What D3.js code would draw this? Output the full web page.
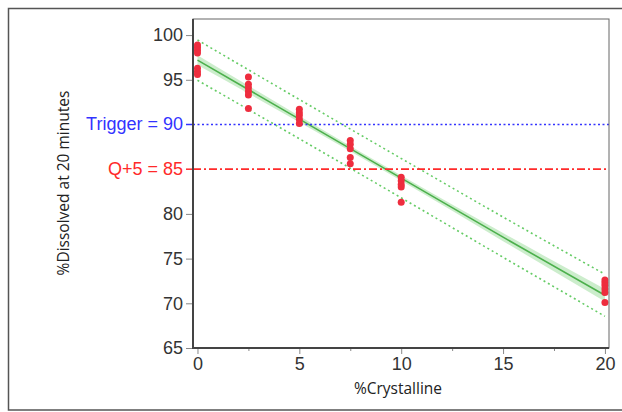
<!DOCTYPE html>
<html>
<head>
<meta charset="utf-8">
<script src="https://cdn.jsdelivr.net/npm/d3@7"></script>
<style>
  body { margin: 0; background: #fff; }
  svg { display: block; }
</style>
</head>
<body>
<div id="chart"></div>
<script>
const crystalline = [0, 0, 0, 0, 0, 0, 0,
  2.5, 2.5, 2.5, 2.5, 2.5, 2.5,
  5, 5, 5, 5, 5,
  7.5, 7.5, 7.5, 7.5, 7.5,
  10, 10, 10, 10, 10,
  20, 20, 20, 20, 20, 20]
const dissolved = [98.9, 98.6, 98.3, 98.0, 96.3, 95.9, 95.6,
  95.3, 94.5, 94.1, 93.7, 93.3, 91.8,
  91.7, 91.3, 91.0, 90.6, 90.1,
  88.2, 87.8, 87.3, 86.3, 85.6,
  84.1, 83.7, 83.3, 83.0, 81.3,
  72.6, 72.3, 72.0, 71.6, 71.2, 70.1]

// fitted line and bands, read at a few x positions
const fitX = [0, 5, 10, 15, 20]
const fitY = [97.2, 90.6, 84.0, 77.4, 70.9]
const confHalf = [0.55, 0.35, 0.3, 0.45, 0.7]
const predHalf = [2.25, 2.2, 2.2, 2.25, 2.35]

const xTicks = [0, 5, 10, 15, 20]
const xMinor = [2.5, 7.5, 12.5, 17.5]
const yTicks = [65, 70, 75, 80, 95, 100]
const refLines = [
  { value: 90, label: "Trigger = 90", color: "#3333ff", dash: "2,2.5" },
  { value: 85, label: "Q+5 = 85", color: "#ff2a2a", dash: "8,3,2,3" }
]

const W = 622, H = 412
const m = { left: 193, right: 609, top: 19, bottom: 348 }

const svg = d3.select("#chart").append("svg")
  .attr("width", W)
  .attr("height", H)

// outer frame
svg.append("rect")
  .attr("x", 8.5).attr("y", 8.5)
  .attr("width", 640).attr("height", 401.5)
  .attr("fill", "none")
  .attr("stroke", "#555")
  .attr("stroke-width", 1.5)

const x = d3.scaleLinear().domain([-0.22, 20.2]).range([m.left, m.right])
const y = d3.scaleLinear().domain([65, 101.8]).range([m.bottom, m.top])

const plot = svg.append("g")

const idx = d3.range(fitX.length)
const curve = d3.curveMonotoneX

// confidence band
plot.append("path")
  .datum(idx)
  .attr("fill", "#bfe8bf")
  .attr("opacity", 0.8)
  .attr("d", d3.area()
    .curve(curve)
    .x(i => x(fitX[i]))
    .y0(i => y(fitY[i] - confHalf[i]))
    .y1(i => y(fitY[i] + confHalf[i])))

// prediction band lines
;[-1, 1].forEach(s => {
  plot.append("path")
    .datum(idx)
    .attr("fill", "none")
    .attr("stroke", "#66cc66")
    .attr("stroke-width", 1.6)
    .attr("stroke-dasharray", "2,3")
    .attr("d", d3.line()
      .curve(curve)
      .x(i => x(fitX[i]))
      .y(i => y(fitY[i] + s * predHalf[i])))
})

// fit line
plot.append("path")
  .datum(idx)
  .attr("fill", "none")
  .attr("stroke", "#4cb04c")
  .attr("stroke-width", 1.6)
  .attr("d", d3.line()
    .x(i => x(fitX[i]))
    .y(i => y(fitY[i])))

// reference lines
refLines.forEach(r => {
  plot.append("line")
    .attr("x1", m.left).attr("x2", m.right)
    .attr("y1", y(r.value)).attr("y2", y(r.value))
    .attr("stroke", r.color)
    .attr("stroke-width", 1.7)
    .attr("stroke-dasharray", r.dash)
})

// points
plot.selectAll("circle")
  .data(d3.range(crystalline.length))
  .enter().append("circle")
  .attr("cx", i => x(crystalline[i]))
  .attr("cy", i => y(dissolved[i]))
  .attr("r", 3.5)
  .attr("fill", "#ee2d3e")

// axes
const tickFont = "'Liberation Sans', Arial, sans-serif"

const xAxis = svg.append("g")
  .attr("transform", "translate(0," + m.bottom + ")")
  .call(d3.axisBottom(x).tickValues(xTicks).tickSize(6).tickPadding(3))
xAxis.select(".domain").remove()
xAxis.selectAll("line").attr("stroke", "#888")
xAxis.selectAll("text")
  .style("font-family", tickFont)
  .style("font-size", "18px")
  .attr("fill", "#333")

svg.append("g")
  .attr("transform", "translate(0," + m.bottom + ")")
  .call(d3.axisBottom(x).tickValues(xMinor).tickSize(3).tickFormat(""))
  .call(g => g.select(".domain").remove())
  .selectAll("line").attr("stroke", "#888")

const yAxis = svg.append("g")
  .attr("transform", "translate(" + m.left + ",0)")
  .call(d3.axisLeft(y).tickValues(yTicks).tickSize(7).tickPadding(3))
yAxis.select(".domain").remove()
yAxis.selectAll("line").attr("stroke", "#888")
yAxis.selectAll("text")
  .style("font-family", tickFont)
  .style("font-size", "18px")
  .attr("fill", "#333")

refLines.forEach(r => {
  svg.append("line")
    .attr("x1", m.left - 7).attr("x2", m.left)
    .attr("y1", y(r.value)).attr("y2", y(r.value))
    .attr("stroke", r.color)
    .attr("stroke-width", 1.5)
  svg.append("text")
    .attr("x", m.left - 10)
    .attr("y", y(r.value))
    .attr("dy", "0.32em")
    .attr("text-anchor", "end")
    .style("font-family", tickFont)
    .style("font-size", "18px")
    .attr("fill", r.color)
    .text(r.label)
})

// plot frame
svg.append("rect")
  .attr("x", m.left).attr("y", m.top)
  .attr("width", m.right - m.left).attr("height", m.bottom - m.top)
  .attr("fill", "none")
  .attr("stroke", "#666")
  .attr("stroke-width", 1)
svg.append("path")
  .attr("d", "M" + m.left + "," + m.top + "V" + m.bottom + "H" + m.right)
  .attr("fill", "none")
  .attr("stroke", "#444")
  .attr("stroke-width", 2)

// titles
const titleFont = "'Open Sans', 'Noto Sans', sans-serif"
svg.append("text")
  .attr("transform", "translate(69,183)rotate(-90)")
  .attr("text-anchor", "middle")
  .style("font-family", titleFont)
  .style("font-size", "15.5px")
  .attr("fill", "#222")
  .text("%Dissolved at 20 minutes")

svg.append("text")
  .attr("x", 398)
  .attr("y", 394)
  .attr("text-anchor", "middle")
  .style("font-family", titleFont)
  .style("font-size", "15.5px")
  .attr("fill", "#222")
  .text("%Crystalline")
</script>
</body>
</html>
